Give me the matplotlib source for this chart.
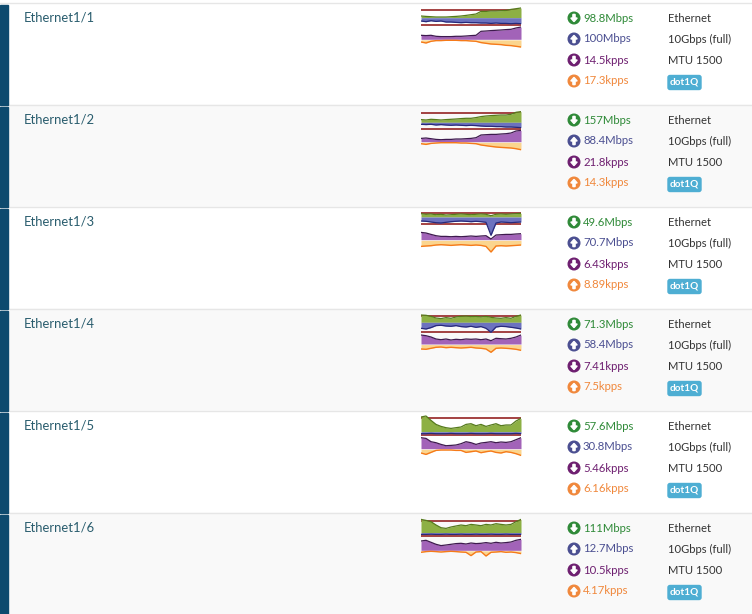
import numpy as np
import matplotlib
matplotlib.use("Agg")
from matplotlib import pyplot as plt
from matplotlib.patches import Circle, Polygon, Rectangle, FancyBboxPatch

plt.rcParams['font.family'] = ['Lato', 'DejaVu Sans']

# port list
ports = ["Ethernet1/1", "Ethernet1/2", "Ethernet1/3", "Ethernet1/4", "Ethernet1/5", "Ethernet1/6"]
bits_in_txt = ["98.8Mbps", "157Mbps", "49.6Mbps", "71.3Mbps", "57.6Mbps", "111Mbps"]
bits_out_txt = ["100Mbps", "88.4Mbps", "70.7Mbps", "58.4Mbps", "30.8Mbps", "12.7Mbps"]
pkts_in_txt = ["14.5kpps", "21.8kpps", "6.43kpps", "7.41kpps", "5.46kpps", "10.5kpps"]
pkts_out_txt = ["17.3kpps", "14.3kpps", "8.89kpps", "7.5kpps", "6.16kpps", "4.17kpps"]
port_type = "Ethernet"
port_speed = "10Gbps (full)"
port_mtu = "MTU 1500"
port_vlan = "dot1Q"

# minigraph values (sparkline heights)
bits_in = [
    [1.7,1.3,1,0.7,0.7,0.7,1,1.3,1.7,2.3,3,3.7,6.3,6.3,6.7,6.7,7,7.3,8.3,9,9.7],
    [2.7,2.3,3,2.7,2.3,2.7,3,3.3,3.7,4,4,4.7,5.7,6.3,6.7,7,7.3,7.3,8,10,10.7],
    [3.3,2.7,3,2.3,2.7,2,2.3,2.7,3,2.7,2.3,2.7,3,2.7,1.3,2.7,3,2.7,3,3.3,3.7],
    [7.3,7,6,4.3,3.7,4.7,4,5.3,6,6.3,5.7,6,5.3,6,5,4.3,4,4.7,4,6,7.3],
    [14.7,15.7,11.3,7.3,5.3,4,3.3,4,4.7,7.3,8,6,7.3,5.3,6.7,8,6,6.7,6.7,10.7,13.3],
    [13.3,12.3,11,7.7,5,4.3,5.7,6.7,7.7,7,8.3,7.7,7,8.3,7.7,9,8.3,7.7,8.3,11,13.3],
]
bits_out = [
    [3.3,4,3,3.7,3.3,4.3,4.3,4.7,5,4.7,5,5,5.3,5.3,5.7,5.3,5.7,5.7,6,5.7,6],
    [2,2.3,2,2.7,2.3,2.7,3,2.7,3,3.3,3,3.3,3.7,4,4,4.3,4.3,4.7,4.7,5,5.3],
    [4,4.3,5,5.7,6,5.3,4.7,4.3,4,4.3,4.7,4.3,4.7,5.3,18.3,6,5,5.3,5.7,5.3,5],
    [6,6.7,5.3,3.3,3,3.7,4,3.3,4.3,4.7,4,5,4.3,6,10,4.7,4,4.3,5,5.7,6.7],
    [2,2,1.7,2,2,2,1.7,2,2,2,1.7,2,2,2,1.7,2,2,2,2,1.7,2],
    [1.7,1.7,1.5,1.7,1.7,1.5,1.7,1.7,1.5,1.7,1.7,1.5,1.7,1.7,1.5,1.7,1.7,1.5,1.7,1.7,1.7],
]
pkts_in = [
    [4,3.7,4,3,2.7,2.7,2.7,3,3,3.3,3.7,4,8,8.3,8.7,9,9.3,9.7,10,11.3,12.3],
    [3.3,3.7,3,2.3,2,2.3,2.3,2.7,2.7,3,3.3,4,6.7,7,7.3,7.3,7.7,8,8.7,10.7,11.3],
    [7.3,6.7,5.3,4,3.3,3.3,3,3.3,3,3.3,3.7,3.3,3.7,4,0.7,4.7,5,5.3,5.3,5.7,6],
    [9,8.3,7,5,4.3,5,4,4.7,4.3,5,4.7,5,4.3,5,3.3,5.7,5.3,5,5.7,7,9],
    [11,10.3,7,6,4.3,3,3.3,3.7,5,7,6,4.3,5.7,6.3,7,6,6.7,6.3,7,9,11],
    [9.3,10,8,6,4.7,5.3,6,6.7,7,6.3,7.3,6.7,7,7.7,7,8,7.3,7.7,8.3,10,11],
]
pkts_out = [
    [2.7,3.7,2,1.3,1.3,1,1,1,1.3,1.3,1.7,2,3.3,4,4.7,5,5.3,6,6.3,7,7.7],
    [2,2.7,1.7,1.3,1,1,1,1,1.3,1.3,1.7,2,3.3,4,4.7,5.3,5.7,6,6.3,7,8],
    [6.7,6.3,6,5.3,5,5.3,5.7,5.3,5,5.3,5.7,5.3,5.7,6.7,12.3,6.3,6,6.3,6,5.7,5.3],
    [5,5.3,4.3,3.3,3,3.7,3.3,3.7,4,3.7,3.3,4,4.3,5,8.3,4.3,4,4.3,4.7,5.3,6.3],
    [4.3,5.7,3.7,1.7,1.3,1.3,1.3,1.7,1.7,3.7,3,2.3,4,3,2.3,3.7,4.3,3,3.7,5,6.7],
    [2,1.3,1,1.3,1.7,1.3,1,1.3,1.7,2,5.3,1.7,1.3,5.7,2,1.7,1.3,2,1.7,2.3,3.3],
]

# where each graph sits inside its row (px from row top)
bits_mid = [14.7, 17.3, 10, 13.3, 20.7, 19.7]
pkts_mid = [36.3, 36.7, 32.7, 35, 37.7, 37.3]
red_top = [7, 8.3, 5.7, 6.7, 7.3, 8]
red_low = [22.3, 24, 16.7, 23.3, 24, 23]

W, H = 752, 614
row_h = 102
row_y0 = 3

fig = plt.figure(figsize=(W / 100, H / 100), dpi=100)
ax = fig.add_axes([0, 0, 1, 1])
ax.set_xlim(0, W)
ax.set_ylim(H, 0)
ax.axis('off')

green_c, blue_c, purple_c, orange_c = "#2f8a38", "#4b4f91", "#6e1f70", "#f0883c"


def icon(x, y, color, up):
    ax.add_patch(Circle((x, y), 5.8, color=color, zorder=3))
    s = -1 if up else 1
    pts = [(-1.1, -3.6), (1.1, -3.6), (1.1, 0), (3.2, 0), (0, 3.6), (-3.2, 0), (-1.1, 0)]
    ax.add_patch(Polygon([(x + px, y + s * py) for px, py in pts], closed=True,
                         color="white", zorder=4))


for i, name in enumerate(ports):
    top = row_y0 + i * row_h
    bg = "white" if i % 2 == 0 else "#f9f9f9"
    ax.add_patch(Rectangle((0, top), W, row_h, color=bg, zorder=0))
    ax.plot([0, W], [top, top], color="#e6e6e6", lw=1, zorder=1)
    ax.add_patch(Rectangle((0, top + 1.5), 8, row_h - 1.5, color="#0d4a6e", zorder=2))

    ax.text(24, top + 15, name, color="#2a5d6e", fontsize=9.4, va="center", ha="left")

    stats = [(bits_in_txt[i], green_c, False), (bits_out_txt[i], blue_c, True),
             (pkts_in_txt[i], purple_c, False), (pkts_out_txt[i], orange_c, True)]
    for k, (txt, col, up) in enumerate(stats):
        y = top + 15 + 21 * k
        icon(574, y, col, up)
        ax.text(583, y, txt, color=col, fontsize=8.2, va="center", ha="left")

    for k, txt in enumerate([port_type, port_speed, port_mtu]):
        ax.text(668, top + 15 + 21 * k, txt, color="#333333", fontsize=8.1,
                va="center", ha="left")
    ax.add_patch(FancyBboxPatch((668, top + 72.5), 33, 14,
                                boxstyle="round,pad=0,rounding_size=2",
                                color="#4eaed3", zorder=3))
    ax.text(684.5, top + 79.5, port_vlan, color="white", fontsize=7.2, weight="bold",
            va="center", ha="center", zorder=4)

    # minigraph
    sp = fig.add_axes([421 / W, 1 - (top + 50) / H, 100 / W, 50 / H])
    sp.set_xlim(0, len(bits_in[i]) - 1)
    sp.set_ylim(50, 0)
    sp.axis('off')
    sp.patch.set_alpha(0)
    x = np.arange(len(bits_in[i]))
    bm, pm = bits_mid[i], pkts_mid[i]
    sp.axhline(red_top[i], color="#8b1010", lw=1.1, zorder=1)
    sp.axhline(red_low[i], color="#8b1010", lw=1.1, zorder=1)
    gi = bm - np.array(bits_in[i])
    bo = bm + np.array(bits_out[i])
    pi = pm - np.array(pkts_in[i])
    po = pm + np.array(pkts_out[i])
    sp.fill_between(x, bm, gi, color="#8db044", lw=0, zorder=2)
    sp.plot(x, gi, color="#557a1c", lw=0.9, zorder=3)
    sp.fill_between(x, bm, bo, color="#6c72bf", lw=0, zorder=2)
    sp.plot(x, bo, color="#27297a", lw=0.9, zorder=3)
    sp.fill_between(x, pm, pi, color="#a263b8", lw=0, zorder=2)
    sp.plot(x, pi, color="#3e1a4e", lw=0.9, zorder=3)
    sp.fill_between(x, pm + 0.6, po, color="#fbd58e", lw=0, zorder=2)
    sp.plot(x, po, color="#f57a1a", lw=1.0, zorder=3)

plt.savefig("out.png", dpi=100)
